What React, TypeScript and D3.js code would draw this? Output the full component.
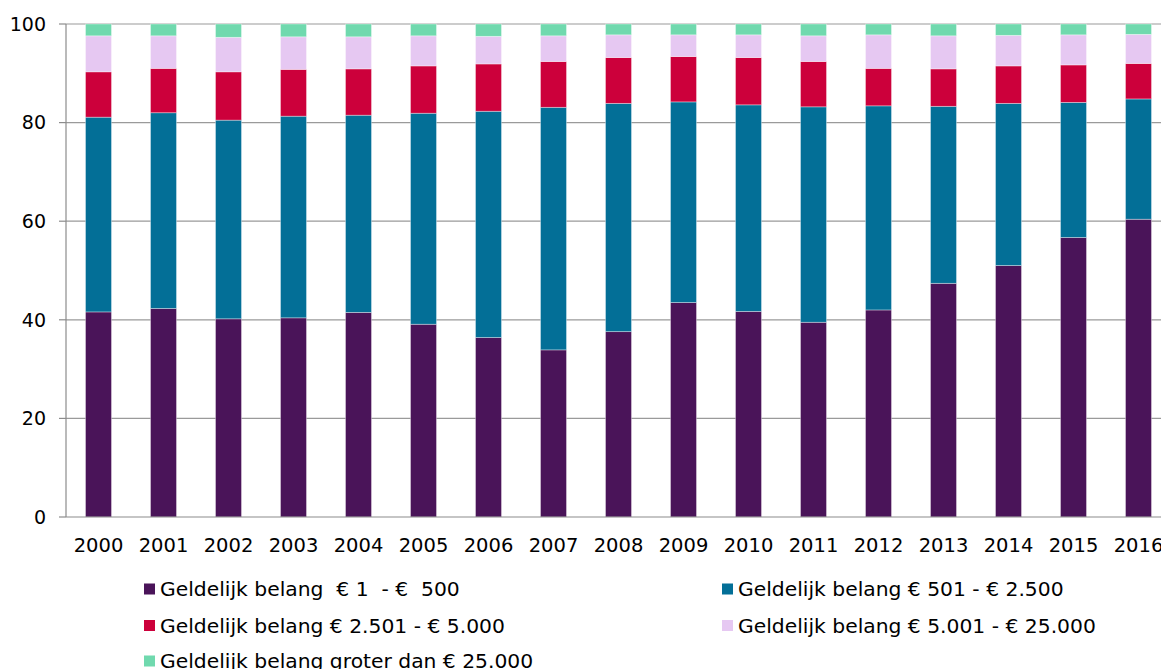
import React from "react";
import * as d3 from "d3";

const years = ["2000", "2001", "2002", "2003", "2004", "2005", "2006", "2007", "2008",
  "2009", "2010", "2011", "2012", "2013", "2014", "2015", "2016"];

const tot500 = [41.6, 42.3, 40.2, 40.4, 41.5, 39.1, 36.4, 33.9, 37.6, 43.5, 41.7, 39.5, 42.0, 47.4, 51.0, 56.7, 60.4];
const tot2500 = [39.5, 39.7, 40.3, 40.9, 40.0, 42.8, 45.9, 49.2, 46.3, 40.7, 41.9, 43.7, 41.4, 35.9, 32.9, 27.4, 24.4];
const tot5000 = [9.2, 9.0, 9.8, 9.5, 9.4, 9.6, 9.6, 9.3, 9.3, 9.2, 9.6, 9.2, 7.6, 7.6, 7.6, 7.6, 7.2];
const tot25000 = [7.3, 6.6, 7.0, 6.6, 6.5, 6.1, 5.6, 5.2, 4.6, 4.4, 4.6, 5.2, 6.8, 6.7, 6.2, 6.1, 5.9];
const boven25000 = [2.4, 2.4, 2.7, 2.6, 2.6, 2.4, 2.5, 2.4, 2.2, 2.2, 2.2, 2.4, 2.2, 2.4, 2.3, 2.2, 2.1];

const seriesNames = [
  "Geldelijk belang  € 1  - €  500",
  "Geldelijk belang € 501 - € 2.500",
  "Geldelijk belang € 2.501 - € 5.000",
  "Geldelijk belang € 5.001 - € 25.000",
  "Geldelijk belang groter dan € 25.000",
];
const seriesValues = [tot500, tot2500, tot5000, tot25000, boven25000];
const colors = ["#4a1459", "#036f97", "#cc003b", "#e6c8f2", "#70d9ae"];
const yTicks = [0, 20, 40, 60, 80, 100];

const W = 1161;
const H = 669;
const font = "'DejaVu Sans', Verdana, sans-serif";

export default function App() {
  const left = 66;
  const top = 24;
  const bottom = 517;

  const x = d3.scaleBand<string>()
    .domain(years)
    .range([left, left + 65 * 17])
    .paddingInner(0.6)
    .paddingOuter(0.3);
  const y = d3.scaleLinear().domain([0, 100]).range([bottom, top]);

  const rows = years.map((yr, i) => {
    const r: Record<string, number | string> = { year: yr };
    seriesValues.forEach((s, k) => (r["s" + k] = s[i]));
    return r;
  });
  const stack = d3.stack<any>().keys(seriesValues.map((_, k) => "s" + k));
  const layers = stack(rows);

  // legend: two columns, three rows (last row runs off the bottom, as in the original)
  const legendPos = [
    { x: 144, y: 589 },
    { x: 722, y: 589 },
    { x: 144, y: 625.5 },
    { x: 722, y: 625.5 },
    { x: 144, y: 661 },
  ];

  return (
    <div style={{ position: "absolute", left: 0, top: 0 }}>
      <svg width={W} height={H} style={{ display: "block", background: "#fff" }}>
        {yTicks.filter((t) => t > 0).map((t) => (
          <line key={t} x1={left} x2={W} y1={y(t)} y2={y(t)} stroke="#9a9a9a" strokeWidth={1.2} />
        ))}
        {layers.map((layer, k) => (
          <g key={k} fill={colors[k]}>
            {layer.map((d, i) => (
              <rect
                key={i}
                x={x(years[i])}
                y={y(d[1])}
                width={x.bandwidth()}
                height={y(d[0]) - y(d[1])}
                stroke="#ffffff"
                strokeOpacity={0.45}
                strokeWidth={0.8}
              />
            ))}
          </g>
        ))}
        <line x1={left} x2={left} y1={top} y2={bottom} stroke="#8c8c8c" strokeWidth={1.2} />
        <line x1={left} x2={W} y1={bottom} y2={bottom} stroke="#8c8c8c" strokeWidth={1.2} />
        {yTicks.map((t) => (
          <g key={t}>
            <line x1={left - 7} x2={left} y1={y(t)} y2={y(t)} stroke="#8c8c8c" strokeWidth={1.2} />
            <text x={46} y={y(t)} dy="0.36em" textAnchor="end" fontFamily={font} fontSize={19} fill="#000">
              {t}
            </text>
          </g>
        ))}
        {years.map((yr) => (
          <text key={yr} x={(x(yr) ?? 0) + x.bandwidth() / 2} y={552} textAnchor="middle" fontFamily={font} fontSize={19.5} fill="#000">
            {yr}
          </text>
        ))}
        {seriesNames.map((name, k) => (
          <g key={k} transform={`translate(${legendPos[k].x},${legendPos[k].y})`}>
            <rect x={0} y={-5.5} width={11} height={11} fill={colors[k]} />
            <text x={16} y={0} dy="0.36em" fontFamily={font} fontSize={20.3} fill="#000" style={{ whiteSpace: "pre" }}>
              {name}
            </text>
          </g>
        ))}
      </svg>
    </div>
  );
}
